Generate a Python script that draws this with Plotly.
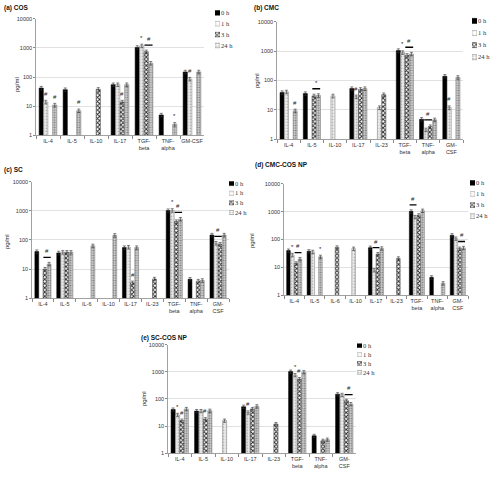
import math
import plotly.graph_objects as go

SERIES = ["0 h", "1 h", "3 h", "24 h"]

# ---------------- data (pg/ml) ----------------
A_CATS = ["IL-4", "IL-5", "IL-10", "IL-17", "TGF-beta", "TNF-alpha", "GM-CSF"]
A_LABELS = ["IL-4", "IL-5", "IL-10", "IL-17", "TGF-<br>beta", "TNF-<br>alpha", "GM-CSF"]
A_0H = [42, 37, None, 55, 1040, 5.0, 150]
A_1H = [14, None, None, 55, 1180, None, 85]
A_3H = [None, None, 38, 14, 740, None, None]
A_24H = [11, 7, None, 55, 300, 2.4, 150]

B_CATS = ["IL-4", "IL-5", "IL-10", "IL-17", "IL-23", "TGF-beta", "TNF-alpha", "GM-CSF"]
B_LABELS = ["IL-4", "IL-5", "IL-10", "IL-17", "IL-23", "TGF-<br>beta", "TNF-<br>alpha", "GM-<br>CSF"]
B_0H = [39, 36, None, 53, None, 1050, 4.8, 140]
B_1H = [41, None, 30, 28, 12, 900, 2.1, 12]
B_3H = [None, 30, None, 50, 33, 720, 2.7, None]
B_24H = [9.3, 31, None, 53, None, 800, 4.6, 128]

C_CATS = ["IL-4", "IL-5", "IL-6", "IL-10", "IL-17", "IL-23", "TGF-beta", "TNF-alpha", "GM-CSF"]
C_LABELS = ["IL-4", "IL-5", "IL-6", "IL-10", "IL-17", "IL-23", "TGF-<br>beta", "TNF-<br>alpha", "GM-<br>CSF"]
C_0H = [40, 36, None, None, 55, None, 1020, 4.5, 148]
C_1H = [None, 38, None, None, 57, None, 1040, None, 78]
C_3H = [10, 38, None, None, 3.4, 4.6, 430, 3.9, 72]
C_24H = [15, 38, 63, 145, 55, None, 520, 4.1, 148]

D_CATS = ["IL-4", "IL-5", "IL-6", "IL-10", "IL-17", "IL-23", "TGF-beta", "TNF-alpha", "GM-CSF"]
D_LABELS = ["IL-4", "IL-5", "IL-6", "IL-10", "IL-17", "IL-23", "TGF-<br>beta", "TNF-<br>alpha", "GM-<br>CSF"]
D_0H = [40, 38, None, None, 51, None, 1020, 4.4, 142]
D_1H = [28, 36, None, 47, 8, None, 640, None, 108]
D_3H = [14, None, 52, None, 30, 21, 740, None, 47]
D_24H = [20, 24, None, None, 48, None, 1080, 2.7, 50]

E_CATS = ["IL-4", "IL-5", "IL-10", "IL-17", "IL-23", "TGF-beta", "TNF-alpha", "GM-CSF"]
E_LABELS = ["IL-4", "IL-5", "IL-10", "IL-17", "IL-23", "TGF-<br>beta", "TNF-<br>alpha", "GM-<br>CSF"]
E_0H = [41, 36, None, 52, None, 1020, 4.4, 150]
E_1H = [26, 36, 16, 32, None, 760, None, 142]
E_3H = [16, 18, None, 43, 12, 540, 2.9, 86]
E_24H = [43, 37, None, 54, None, 970, 3.2, 65]

# significance marks: (category, series index, symbol) and brackets (category, k1, k2, symbol)
A_SIG = [("IL-4", 1, "#"), ("IL-4", 3, "#"), ("IL-5", 3, "#"), ("IL-17", 2, "#"),
         ("TGF-beta", 1, "*"), ("TNF-alpha", 3, "*"), ("GM-CSF", 1, "#")]
A_BR = [("TGF-beta", 2, 3, "#")]
B_SIG = [("IL-4", 3, "#"), ("IL-17", 1, "#"), ("TGF-beta", 1, "*"), ("GM-CSF", 1, "#")]
B_BR = [("IL-5", 2, 3, "*"), ("TGF-beta", 2, 3, "#"), ("TNF-alpha", 1, 2, "#")]
C_SIG = [("IL-17", 2, "#"), ("TGF-beta", 1, "*")]
C_BR = [("IL-4", 2, 3, "#"), ("TGF-beta", 2, 3, "#"), ("GM-CSF", 1, 2, "#")]
D_SIG = [("IL-4", 1, "*"), ("IL-5", 3, "*")]
D_BR = [("IL-4", 2, 3, "#"), ("IL-17", 1, 2, "#"), ("TGF-beta", 0, 1, "#"), ("GM-CSF", 2, 3, "#")]
E_SIG = [("IL-4", 1, "*"), ("IL-4", 2, "#"), ("IL-5", 2, "#"), ("IL-17", 1, "#"),
         ("TGF-beta", 1, "*"), ("TGF-beta", 2, "#")]
E_BR = [("GM-CSF", 2, 3, "#")]

TITLES = ["(a) COS", "(b) CMC", "(c) SC", "(d) CMC-COS NP", "(e) SC-COS NP"]
LEGEND_SWATCH = [1, 1, 1, 1]

PANELS = [
    dict(cats=A_CATS, labels=A_LABELS, vals=[A_0H, A_1H, A_3H, A_24H], sig=A_SIG, br=A_BR),
    dict(cats=B_CATS, labels=B_LABELS, vals=[B_0H, B_1H, B_3H, B_24H], sig=B_SIG, br=B_BR),
    dict(cats=C_CATS, labels=C_LABELS, vals=[C_0H, C_1H, C_3H, C_24H], sig=C_SIG, br=C_BR),
    dict(cats=D_CATS, labels=D_LABELS, vals=[D_0H, D_1H, D_3H, D_24H], sig=D_SIG, br=D_BR),
    dict(cats=E_CATS, labels=E_LABELS, vals=[E_0H, E_1H, E_3H, E_24H], sig=E_SIG, br=E_BR),
]

# ---------------- layout geometry (pixels in 500x480) ----------------
W, H = 500, 480
PLOT_BOX = [  # x0, x1, ytop, ybottom
    (36, 204, 16, 134),
    (277, 463, 19, 138),
    (32, 229, 181, 299),
    (284, 468, 183, 296),
    (168, 356, 346, 456),
]
LEG_BOX = [  # swatch x0, x1, ytop, ybottom
    (215, 220, 4.5, 48.5),
    (472, 477, 12, 61),
    (229, 234, 178, 217),
    (470, 475, 176.5, 221.5),
    (357, 362, 342.5, 378.5),
]
TITLE_POS = [(2, 5), (252, 5), (2, 169), (253, 164), (139, 339)]
YLAB_POS = [(17, 83), (257, 79), (7, 242), (252, 241), (144, 401)]

STYLE = [
    dict(color="#000000", line=dict(color="#000000", width=0.5)),
    dict(color="#e4e4e4", line=dict(color="#8c8c8c", width=0.6),
         pattern=dict(shape=".", fgcolor="#a8a8a8", bgcolor="#ebebeb", size=3, solidity=0.25)),
    dict(color="#555555", line=dict(color="#333333", width=0.5),
         pattern=dict(shape="x", fgcolor="#2a2a2a", bgcolor="#ffffff", size=3, solidity=0.55)),
    dict(color="#c0c0c0", line=dict(color="#777777", width=0.5),
         pattern=dict(shape=".", fgcolor="#777777", bgcolor="#cfcfcf", size=2.5, solidity=0.35)),
]

BARGAP = 0.25
SLOT = (1 - BARGAP) / 4


def px_x(v):
    return v / W


def px_y(v):
    return 1 - v / H


fig = go.Figure()
annotations = []
shapes = []
layout = {}

for p, panel in enumerate(PANELS):
    n = p + 1
    sfx = "" if n == 1 else str(n)
    xa, ya = "x" + sfx, "y" + sfx
    for k, name in enumerate(SERIES):
        st = STYLE[k]
        marker = dict(color=st["color"], line=st["line"])
        if "pattern" in st:
            marker["pattern"] = dict(st["pattern"], fillmode="replace")
        fig.add_trace(go.Bar(
            x=panel["cats"], y=panel["vals"][k], name=name, marker=marker,
            error_y=dict(type="percent", value=14, thickness=0.6, width=1.5, color="#333333"),
            showlegend=False, xaxis=xa, yaxis=ya))
    x0, x1, yt, yb = PLOT_BOX[p]
    layout["xaxis" + sfx] = dict(
        domain=[px_x(x0), px_x(x1)], anchor=ya, type="category",
        categoryorder="array", categoryarray=panel["cats"],
        tickvals=panel["cats"], ticktext=panel["labels"], tickangle=0,
        showline=True, linecolor="#8a8a8a", linewidth=0.8,
        ticks="outside", tickson="boundaries", ticklen=3, tickcolor="#8a8a8a",
        tickfont=dict(family="Liberation Sans", size=5.5, color="#333333"),
        showgrid=False, zeroline=False, fixedrange=True)
    layout["yaxis" + sfx] = dict(
        domain=[px_y(yb), px_y(yt)], anchor=xa, type="log", range=[0, 4],
        tickvals=[1, 10, 100, 1000, 10000], ticktext=["1", "10", "100", "1000", "10000"],
        showline=True, linecolor="#8a8a8a", linewidth=0.8,
        ticks="outside", ticklen=2, tickcolor="#8a8a8a",
        tickfont=dict(family="Liberation Sans", size=5.5, color="#333333"),
        showgrid=True, gridcolor="#d9d9d9", gridwidth=0.8, zeroline=False, fixedrange=True)

    # significance symbols
    idx = {c: i for i, c in enumerate(panel["cats"])}

    def slot_x(cat, k):
        return idx[cat] - (1 - BARGAP) / 2 + SLOT * (k + 0.5)

    for cat, k, sym in panel["sig"]:
        v = panel["vals"][k][idx[cat]]
        annotations.append(dict(
            x=slot_x(cat, k), y=math.log10(v * 1.15) + 0.05, xref=xa, yref=ya,
            text=sym, showarrow=False, yanchor="bottom",
            font=dict(family="Liberation Sans", size=6, color="#222222")))
    for cat, k1, k2, sym in panel["br"]:
        top = max(panel["vals"][k][idx[cat]] for k in range(k1, k2 + 1))
        ly = math.log10(top * 1.2) + 0.15
        shapes.append(dict(type="line", xref=xa, yref=ya,
                           x0=slot_x(cat, k1) - SLOT * 0.4, x1=slot_x(cat, k2) + SLOT * 0.4,
                           y0=10 ** ly, y1=10 ** ly, line=dict(color="#000000", width=1.3)))
        annotations.append(dict(
            x=(slot_x(cat, k1) + slot_x(cat, k2)) / 2, y=ly + 0.04, xref=xa, yref=ya,
            text=sym, showarrow=False, yanchor="bottom",
            font=dict(family="Liberation Sans", size=6, color="#222222")))

    # legend swatches drawn on a small categorical axis
    m = n + 5
    lx, ly_ = "x" + str(m), "y" + str(m)
    lx0, lx1, lyt, lyb = LEG_BOX[p]
    fig.add_trace(go.Bar(
        y=SERIES, x=LEGEND_SWATCH, orientation="h", width=0.42,
        marker=dict(
            color=[s["color"] for s in STYLE],
            line=dict(color=[s["line"]["color"] for s in STYLE], width=0.5),
            pattern=dict(
                shape=["", ".", "x", "."],
                fgcolor=["#000000", "#a8a8a8", "#2a2a2a", "#777777"],
                bgcolor=["#000000", "#ebebeb", "#ffffff", "#cfcfcf"],
                size=[3, 3, 3, 2.5], solidity=[0.3, 0.25, 0.55, 0.35], fillmode="replace")),
        showlegend=False, hoverinfo="skip", xaxis=lx, yaxis=ly_))
    layout["xaxis" + str(m)] = dict(domain=[px_x(lx0), px_x(lx1)], anchor=ly_, range=[0, 1],
                                    visible=False, fixedrange=True)
    layout["yaxis" + str(m)] = dict(domain=[px_y(lyb), px_y(lyt)], anchor=lx, type="category",
                                    categoryorder="array", categoryarray=SERIES,
                                    autorange="reversed", side="right", showline=False,
                                    showgrid=False, zeroline=False, ticks="", fixedrange=True,
                                    tickfont=dict(family="Liberation Serif", size=6.5, color="#333333"))

    tx, ty = TITLE_POS[p]
    annotations.append(dict(x=px_x(tx), y=px_y(ty), xref="paper", yref="paper",
                            text="<b>" + TITLES[p] + "</b>", showarrow=False,
                            xanchor="left", yanchor="middle",
                            font=dict(family="Liberation Sans", size=6.5, color="#111111")))
    gx, gy = YLAB_POS[p]
    annotations.append(dict(x=px_x(gx), y=px_y(gy), xref="paper", yref="paper",
                            text="pg/ml", showarrow=False, textangle=-90,
                            xanchor="center", yanchor="middle",
                            font=dict(family="Liberation Sans", size=6, color="#222222")))

fig.update_layout(
    width=W, height=H, margin=dict(l=0, r=0, t=0, b=0),
    paper_bgcolor="#ffffff", plot_bgcolor="#ffffff",
    barmode="group", bargap=BARGAP, bargroupgap=0.06,
    showlegend=False, annotations=annotations, shapes=shapes, hovermode=False,
    **layout)

fig.write_html("out.html", config={"displayModeBar": False, "staticPlot": True},
               post_script="document.body.style.margin='0px';")
